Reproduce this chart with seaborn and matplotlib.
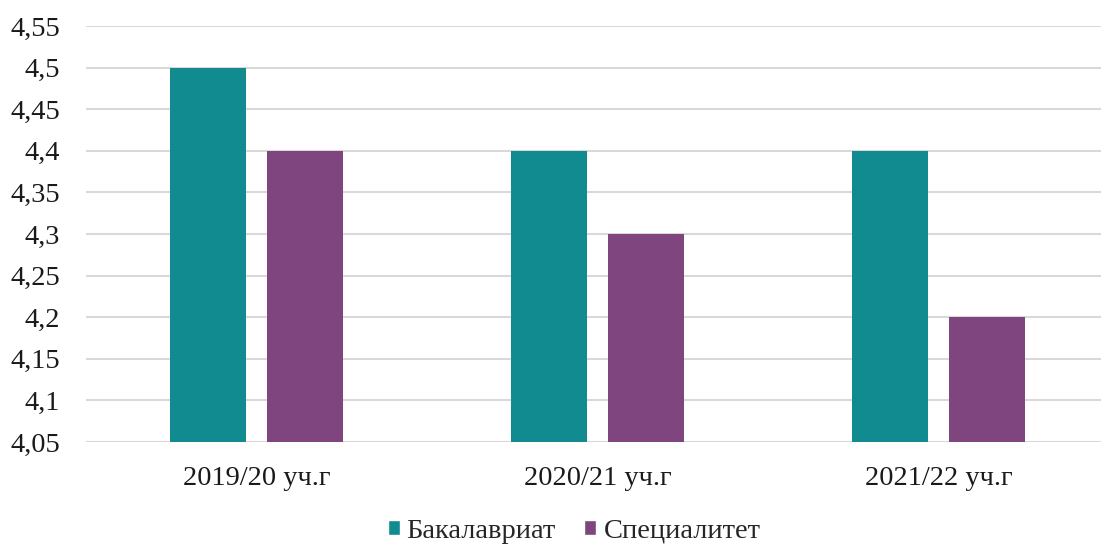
import matplotlib
matplotlib.use("Agg")
import matplotlib.pyplot as plt
import seaborn as sns
import pandas as pd

categories = ["2019/20 уч.г", "2020/21 уч.г", "2021/22 уч.г"]
series_names = ["Бакалавриат", "Специалитет"]
bachelor = [4.5, 4.4, 4.4]
specialist = [4.4, 4.3, 4.2]
y_ticks = [4.05, 4.1, 4.15, 4.2, 4.25, 4.3, 4.35, 4.4, 4.45, 4.5, 4.55]
colors = ["#118B8F", "#7F457E"]

df = pd.DataFrame({
    "cat": categories * 2,
    "series": [series_names[0]] * 3 + [series_names[1]] * 3,
    "value": bachelor + specialist,
})

sns.set_theme(style="white")
plt.rcParams["font.family"] = ["Liberation Serif", "DejaVu Serif"]

fig = plt.figure(figsize=(11.01, 5.44), dpi=100)
ax = fig.add_axes([86 / 1101, 102 / 544, 1 - 86 / 1101, (442 - 26) / 544])

sns.barplot(data=df, x="cat", y="value", hue="series", palette=colors,
            width=0.569, gap=0.216, ax=ax, legend=False, saturation=1,
            linewidth=0)

ax.set_ylim(4.05, 4.55)
ax.set_xlim(-0.5, 2.5 - 8 / 341)
ax.set_yticks(y_ticks)
ax.set_yticklabels([f"{t:g}".replace(".", ",") for t in y_ticks])
ax.grid(axis="y", color="#d9d9d9", linewidth=1.5)
ax.set_axisbelow(True)
for s in ax.spines.values():
    s.set_visible(False)
ax.set_xlabel("")
ax.set_ylabel("")
ax.tick_params(axis="both", length=0, labelsize=20.5, colors="#1a1a1a")
ax.tick_params(axis="y", pad=18.5)
ax.tick_params(axis="x", pad=17)

from matplotlib.patches import Patch
handles = [Patch(facecolor=c, label=n) for c, n in zip(colors, series_names)]
fig.legend(handles=handles, loc="center", bbox_to_anchor=(574 / 1101, 13 / 544), ncol=2,
           frameon=False, fontsize=20.5, handlelength=0.42, handleheight=0.42,
           handletextpad=0.25, columnspacing=1.0, borderpad=0.2)

fig.savefig("out.png", dpi=100)
